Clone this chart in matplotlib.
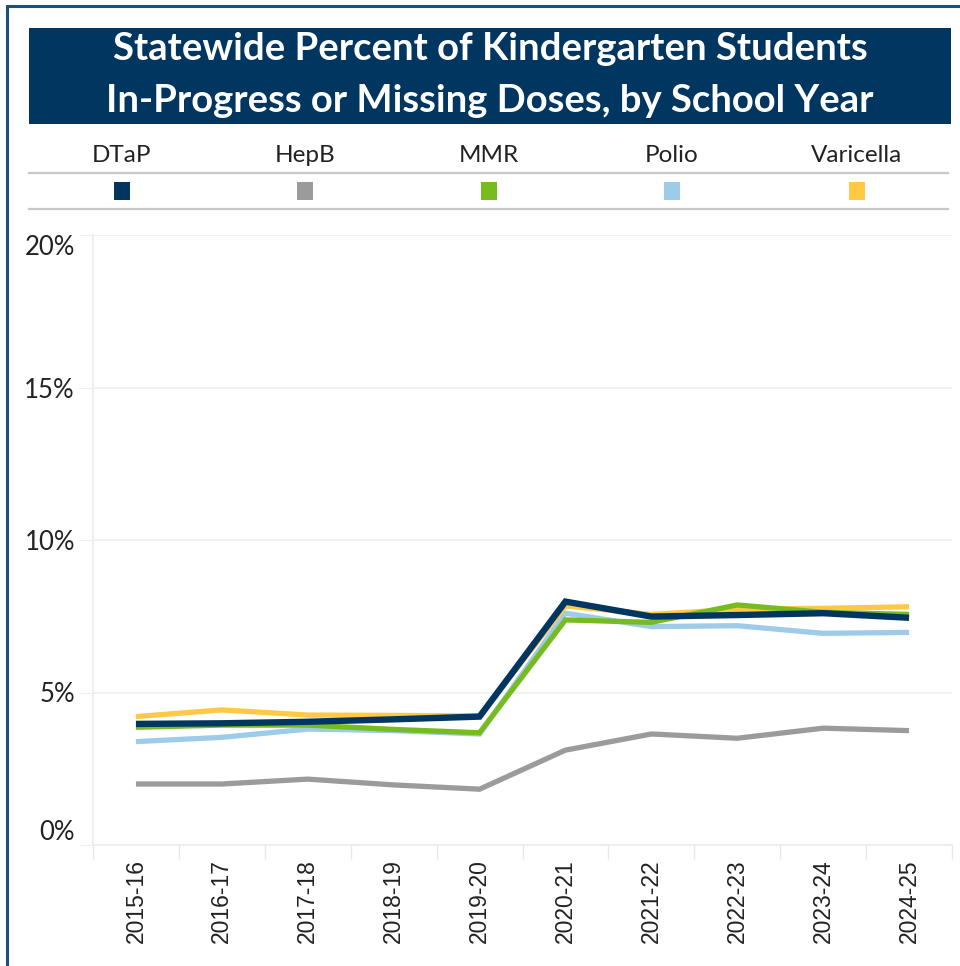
import matplotlib
matplotlib.use("Agg")
import matplotlib.pyplot as plt
from matplotlib.patches import Rectangle
from matplotlib.lines import Line2D

W, H = 960, 966
years = ["2015-16", "2016-17", "2017-18", "2018-19", "2019-20",
         "2020-21", "2021-22", "2022-23", "2023-24", "2024-25"]
dtap      = [3.97, 3.99, 4.04, 4.12, 4.21, 7.98, 7.49, 7.54, 7.60, 7.45]
hepb      = [2.00, 2.00, 2.16, 1.97, 1.83, 3.11, 3.64, 3.50, 3.83, 3.75]
mmr       = [3.86, 3.93, 3.93, 3.79, 3.68, 7.38, 7.30, 7.87, 7.63, 7.56]
polio     = [3.39, 3.53, 3.80, 3.75, 3.64, 7.60, 7.16, 7.19, 6.94, 6.97]
varicella = [4.21, 4.43, 4.26, 4.25, 4.23, 7.84, 7.56, 7.73, 7.76, 7.81]

series_names = ["DTaP", "HepB", "MMR", "Polio", "Varicella"]
colors = {"DTaP": "#003660", "HepB": "#9b9b9b", "MMR": "#76bc21",
          "Polio": "#9dcbea", "Varicella": "#ffc845"}
data = {"DTaP": dtap, "HepB": hepb, "MMR": mmr, "Polio": polio, "Varicella": varicella}
yticks = [0, 5, 10, 15, 20]
ytick_labels = ["0%", "5%", "10%", "15%", "20%"]

fig = plt.figure(figsize=(W / 100, H / 100), dpi=100)

def fx(px):
    return px / W

def fy(py):
    return 1 - py / H

# outer border
fig.patches.append(Rectangle((fx(7), fy(1200)), fx(1200), fy(6) - fy(1200),
                             transform=fig.transFigure, fill=False,
                             edgecolor="#1d4f7c", linewidth=2.2))

# title box
fig.patches.append(Rectangle((fx(29), fy(124)), fx(951) - fx(29), fy(28) - fy(124),
                             transform=fig.transFigure, facecolor="#003660",
                             edgecolor="none"))
fig.text(fx(490), fy(49), "Statewide Percent of Kindergarten Students",
         ha="center", va="center", color="white", fontsize=27.5,
         fontweight="bold", family="Lato")
fig.text(fx(490), fy(101), "In-Progress or Missing Doses, by School Year",
         ha="center", va="center", color="white", fontsize=27.5,
         fontweight="bold", family="Lato")

# legend
for yy in (173, 209):
    fig.add_artist(Line2D([fx(29), fx(948)], [fy(yy), fy(yy)],
                          transform=fig.transFigure, color="#c8c8c8", linewidth=1.6))
leg_x = [122, 305, 489, 672, 857]
for name, xc in zip(series_names, leg_x):
    fig.text(fx(xc), fy(156), name, ha="center", va="center",
             fontsize=17.5, family="Lato", color="#222222")
    fig.patches.append(Rectangle((fx(xc - 8), fy(200)), fx(16), fy(182) - fy(200),
                                 transform=fig.transFigure,
                                 facecolor=colors[name], edgecolor="none"))

# axes
ax = fig.add_axes([fx(93), fy(845), fx(952) - fx(93), fy(235) - fy(845)])
x = list(range(len(years)))
order = ["Polio", "Varicella", "MMR", "HepB", "DTaP"]
for name in order:
    lw = 4.6 if name == "DTaP" else 3.8
    ax.plot(x, data[name], color=colors[name], linewidth=lw,
            solid_joinstyle="miter", solid_capstyle="butt", zorder=3)

ax.set_xlim(-0.5, len(years) - 0.5)
ax.set_ylim(0, 20)
ax.set_yticks(yticks)
ax.set_yticklabels(ytick_labels, family="Lato", fontsize=18.5, color="#222222")
ax.tick_params(axis="y", length=10, color="#eeeeee", pad=3)
for lbl, v in zip(ax.get_yticklabels(), yticks):
    if v == 20:
        lbl.set_va("top")
    elif v == 0:
        lbl.set_va("bottom")
ax.grid(axis="y", color="#efefef", linewidth=1.2, zorder=0)

ax.set_xticks(x)
ax.set_xticklabels(years, rotation=90, family="Liberation Sans",
                   fontsize=16.5, color="#222222")
ax.tick_params(axis="x", which="major", length=0, pad=10)
ax.set_xticks([i - 0.5 for i in range(len(years) + 1)], minor=True)
ax.tick_params(axis="x", which="minor", length=10, color="#e8e8e8", width=1)

for s in ("top", "right"):
    ax.spines[s].set_visible(False)
for s in ("left", "bottom"):
    ax.spines[s].set_color("#ececec")
    ax.spines[s].set_linewidth(1.2)

fig.savefig("out.png", dpi=100)
